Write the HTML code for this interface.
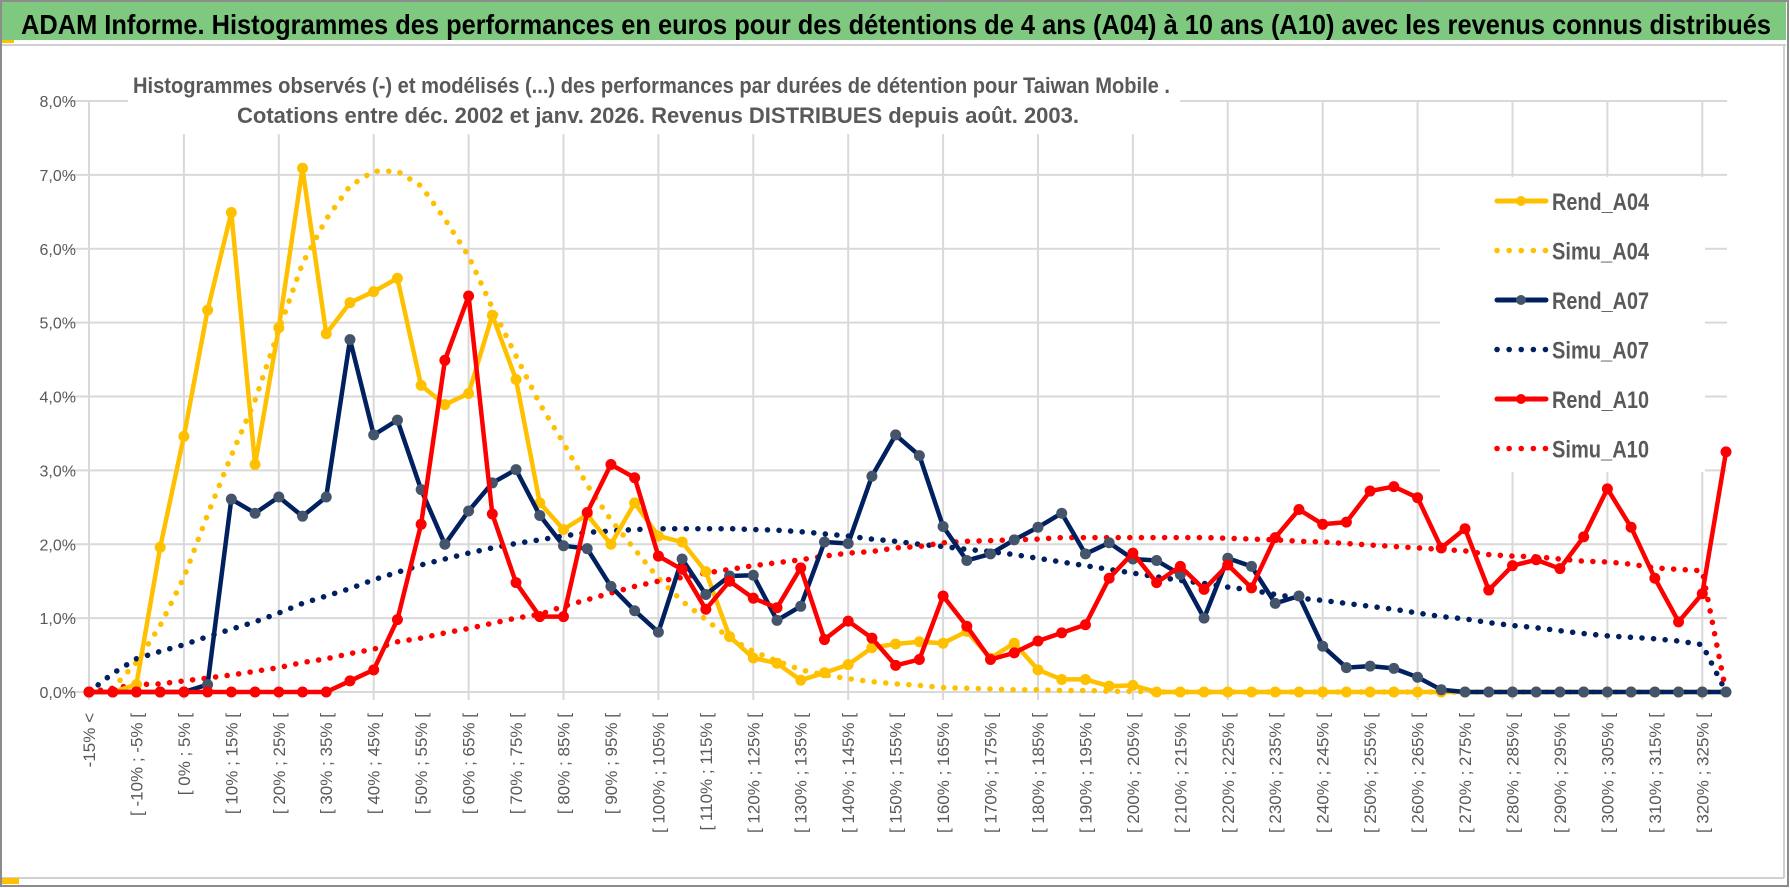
<!DOCTYPE html>
<html><head><meta charset="utf-8">
<style>
html,body{margin:0;padding:0;background:#fff;}
svg{display:block;font-family:"Liberation Sans",sans-serif;}
</style></head>
<body>
<svg id="chart" width="1790" height="888" viewBox="0 0 1790 888" xmlns="http://www.w3.org/2000/svg">
  <rect x="0" y="0" width="1790" height="888" fill="#fff"/>
  <rect x="1" y="1" width="1787" height="885" fill="none" stroke="#8c8c8c" stroke-width="2"/>
  <rect x="2" y="2" width="1784" height="38" fill="#7ec87f"/>
  <line x1="2" y1="45" x2="1786" y2="45" stroke="#d0d0d0" stroke-width="2"/>
  <line x1="1784" y1="45" x2="1784" y2="878" stroke="#d0d0d0" stroke-width="2"/>
  <line x1="2" y1="878" x2="1784" y2="878" stroke="#d0d0d0" stroke-width="2"/>
  <rect x="2" y="878" width="17" height="6" fill="#ffc000"/>
  <rect x="2" y="40" width="12" height="3" fill="#ffc000"/>
  <text x="21" y="34" font-size="28" font-weight="bold" fill="#000" textLength="1750" lengthAdjust="spacingAndGlyphs">ADAM Informe. Histogrammes des performances en euros pour des détentions de 4 ans (A04) à 10 ans (A10) avec les revenus connus distribués</text>
  <g id="grid"></g>
  <rect x="128" y="62" width="1052" height="72" fill="#fff"/>
  <text x="133" y="93" font-size="22" font-weight="bold" fill="#595959" textLength="1037" lengthAdjust="spacingAndGlyphs">Histogrammes observés (-) et modélisés (...) des performances par durées de détention pour Taiwan Mobile .</text>
  <text x="237" y="123" font-size="22" font-weight="bold" fill="#595959" textLength="842" lengthAdjust="spacingAndGlyphs">Cotations entre déc. 2002 et janv. 2026. Revenus DISTRIBUES depuis août. 2003.</text>
  <g id="yaxis"></g>
  <g id="xaxis"></g>
  <g id="series"></g>
  <g id="legend"></g>
</svg>
<script>
const categories = [];
for (let k = 0; k < 70; k++) {
  if (k === 0) categories.push('-15% <');
  else { const a = (k - 4) * 5; categories.push('[ ' + a + '% ; ' + (a + 5) + '% ['); }
}
const yTicks = [0,1,2,3,4,5,6,7,8];
const yTickLabels = ['0,0%','1,0%','2,0%','3,0%','4,0%','5,0%','6,0%','7,0%','8,0%'];
const seriesNames = ['Rend_A04','Simu_A04','Rend_A07','Simu_A07','Rend_A10','Simu_A10'];

const rendA04 = [0,0,0.1,1.96,3.46,5.17,6.49,3.08,4.93,7.09,4.85,5.27,5.42,5.6,4.15,3.89,4.04,5.1,4.23,2.56,2.2,2.4,2.0,2.56,2.11,2.03,1.63,0.75,0.46,0.39,0.16,0.26,0.37,0.6,0.65,0.68,0.66,0.82,0.46,0.66,0.3,0.17,0.17,0.08,0.09,0,0,0,0,0,0,0,0,0,0,0,0,0,0,0,0,0,0,0,0,0,0,0,0,0];
const simuA04 = [0,0.05,0.4,0.9,1.55,2.4,3.2,3.95,4.9,5.8,6.4,6.85,7.05,7.05,6.85,6.4,5.9,5.2,4.55,3.9,3.37,2.8,2.33,1.93,1.54,1.23,0.98,0.73,0.55,0.42,0.3,0.23,0.18,0.14,0.11,0.09,0.06,0.05,0.04,0.03,0.03,0.02,0.02,0.01,0.01,0,0,0,0,0,0,0,0,0,0,0,0,0,0,0,0,0,0,0,0,0,0,0,0,0];
const rendA07 = [0,0,0,0,0,0.1,2.61,2.42,2.64,2.38,2.64,4.77,3.48,3.68,2.74,2.0,2.45,2.83,3.01,2.39,1.98,1.94,1.43,1.1,0.81,1.8,1.32,1.57,1.58,0.97,1.16,2.03,2.01,2.92,3.48,3.2,2.24,1.78,1.87,2.06,2.23,2.42,1.87,2.02,1.8,1.78,1.59,1.0,1.81,1.7,1.2,1.3,0.62,0.33,0.35,0.32,0.2,0.03,0,0,0,0,0,0,0,0,0,0,0,0];
const simuA07 = [0,0.25,0.45,0.55,0.64,0.75,0.85,0.95,1.07,1.2,1.3,1.4,1.52,1.62,1.72,1.8,1.88,1.95,2.01,2.06,2.11,2.16,2.18,2.2,2.21,2.21,2.21,2.21,2.2,2.19,2.17,2.14,2.11,2.07,2.04,2.0,1.97,1.93,1.9,1.86,1.81,1.76,1.71,1.66,1.61,1.56,1.51,1.47,1.42,1.38,1.32,1.27,1.24,1.2,1.16,1.12,1.07,1.02,0.99,0.94,0.9,0.87,0.83,0.79,0.76,0.74,0.72,0.69,0.64,0];
const rendA10 = [0,0,0,0,0,0,0,0,0,0,0,0.15,0.3,0.98,2.27,4.49,5.36,2.41,1.48,1.02,1.02,2.43,3.08,2.9,1.84,1.66,1.12,1.5,1.27,1.14,1.68,0.71,0.96,0.73,0.36,0.44,1.3,0.89,0.44,0.53,0.69,0.8,0.91,1.54,1.88,1.48,1.7,1.39,1.72,1.41,2.09,2.47,2.27,2.3,2.72,2.78,2.63,1.95,2.21,1.38,1.71,1.79,1.67,2.1,2.75,2.23,1.54,0.95,1.33,3.25];
const simuA10 = [0,0.05,0.1,0.11,0.15,0.19,0.23,0.28,0.33,0.4,0.45,0.52,0.58,0.68,0.73,0.8,0.86,0.93,1.0,1.05,1.16,1.25,1.34,1.43,1.5,1.55,1.61,1.66,1.71,1.75,1.79,1.84,1.88,1.9,1.95,1.97,2.02,2.04,2.05,2.06,2.07,2.09,2.09,2.09,2.09,2.09,2.09,2.09,2.08,2.07,2.06,2.04,2.03,2.01,1.99,1.97,1.95,1.93,1.91,1.86,1.84,1.83,1.8,1.77,1.76,1.73,1.68,1.66,1.64,0];

const NS = 'http://www.w3.org/2000/svg';
const X0 = 89, X1 = 1726, Y0 = 692, YMAX = 8, PLOT_TOP = 101;
const xs = i => X0 + (X1 - X0) * i / (categories.length - 1);
const ys = v => Y0 - (Y0 - PLOT_TOP) * v / YMAX;
function mk(tag, attrs, parent) {
  const e = document.createElementNS(NS, tag);
  for (const k in attrs) e.setAttribute(k, attrs[k]);
  parent.appendChild(e);
  return e;
}
const grid = document.getElementById('grid');
yTicks.forEach((t, i) => {
  const l = mk('line', {x1: 68, x2: 1727, y1: ys(t), y2: ys(t), stroke: '#d9d9d9', 'stroke-width': 2}, grid);
  
  
});
for (let i = 0; i < categories.length; i += 4) {
  const l = mk('line', {x1: xs(i), x2: xs(i), y1: PLOT_TOP, y2: Y0 + 8, stroke: '#d9d9d9', 'stroke-width': 2}, grid);
  
  
}
const yaxis = document.getElementById('yaxis');
yTicks.forEach((t, i) => {
  const tx = mk('text', {x: 76, y: ys(t) + 6, 'font-size': 16, fill: '#595959', 'text-anchor': 'end'}, yaxis);
  tx.textContent = yTickLabels[i];
  
  
});
const xaxis = document.getElementById('xaxis');
for (let i = 0; i < categories.length; i += 2) {
  const x = xs(i) + 6, y = 713;
  const tx = mk('text', {x: x, y: y, 'font-size': 17, fill: '#595959', 'text-anchor': 'end', transform: 'rotate(-90 ' + x + ' ' + y + ')'}, xaxis);
  tx.textContent = categories[i];
  
  
}
const seriesData = [rendA04, simuA04, rendA07, simuA07, rendA10, simuA10];
const colors = ['#ffc000','#ffc000','#002060','#002060','#ff0000','#ff0000'];
const markerColors = ['#ffc000',null,'#44546a',null,'#ff0000',null];
const dotted = [false,true,false,true,false,true];
const sg = document.getElementById('series');
const drawOrder = [1,3,5,0,2,4];
drawOrder.forEach(s => {
  const d = seriesData[s];
  const pts = d.map((v, i) => xs(i).toFixed(1) + ',' + ys(v).toFixed(1)).join(' ');
  const attrs = {points: pts, fill: 'none', stroke: colors[s], 'stroke-linejoin': 'round', 'stroke-linecap': 'round'};
  if (dotted[s]) { attrs['stroke-width'] = 5.5; attrs['stroke-dasharray'] = '0.1 11.5'; }
  else { attrs['stroke-width'] = 4.5; }
  const pl = mk('polyline', attrs, sg);
  
  
  if (!dotted[s]) {
    d.forEach((v, i) => {
      const c = mk('circle', {cx: xs(i), cy: ys(v), r: 5.5, fill: markerColors[s]}, sg);
      
      
    });
  }
});
const lg = document.getElementById('legend');
const bg = mk('rect', {x: 1440, y: 177, width: 265, height: 295, fill: '#fff'}, lg);


seriesNames.forEach((n, s) => {
  const y = 201 + s * 49.5;
  const g = mk('g', {}, lg);
  
  
  if (dotted[s]) {
    mk('line', {x1: 1497, x2: 1546, y1: y, y2: y, stroke: colors[s], 'stroke-width': 5.5, 'stroke-dasharray': '0.1 12', 'stroke-linecap': 'round'}, g);
  } else {
    mk('line', {x1: 1497, x2: 1546, y1: y, y2: y, stroke: colors[s], 'stroke-width': 5, 'stroke-linecap': 'round'}, g);
    mk('circle', {cx: 1521, cy: y, r: 5, fill: markerColors[s]}, g);
  }
  const t = mk('text', {x: 1552, y: y + 9, 'font-size': 24, 'font-weight': 'bold', fill: '#595959', textLength: 97, lengthAdjust: 'spacingAndGlyphs'}, g);
  t.textContent = n;
});
</script>
</body></html>
